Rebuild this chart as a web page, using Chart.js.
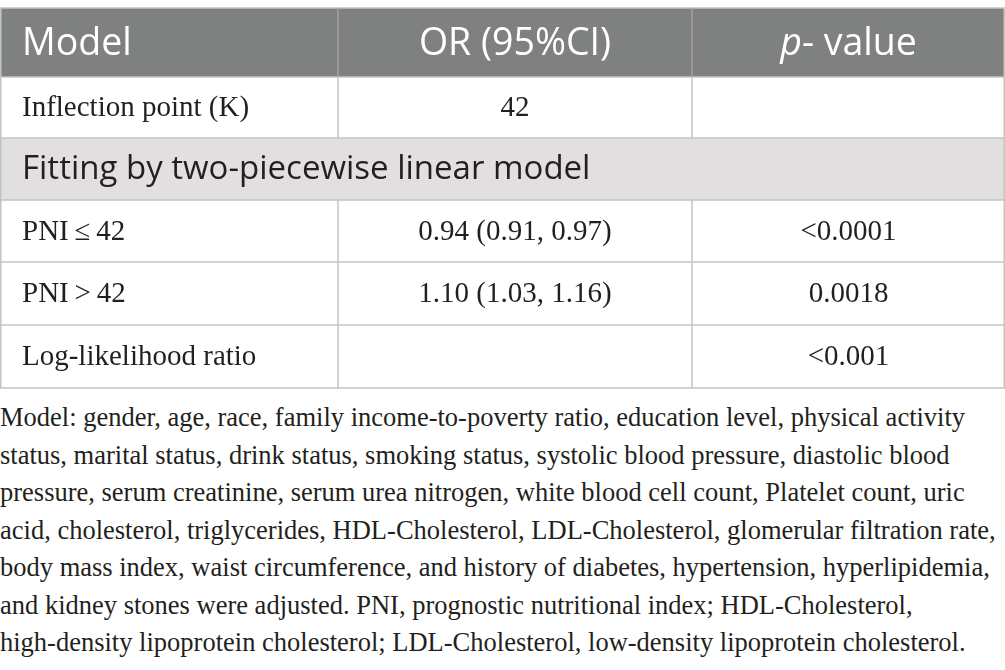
<!DOCTYPE html>
<html>
<head>
<meta charset="utf-8">
<script src="https://cdn.jsdelivr.net/npm/chart.js@4.4.1/dist/chart.umd.min.js"></script>
<style>
  html, body { margin: 0; padding: 0; background: #fff; }
  #page { position: relative; width: 1005px; height: 670px; overflow: hidden; }
  #tableCanvas { position: absolute; left: 0; top: 0; }
  #note {
    position: absolute; left: 0; top: 399px; margin: 0;
    font-family: "Liberation Serif", serif; font-size: 26.5px; line-height: 37.5px;
    color: #231f20; white-space: nowrap;
  }
</style>
</head>
<body>
<div id="page">
  <canvas id="tableCanvas" width="1005" height="390"></canvas>
  <p id="note"></p>
</div>
<script>
// table content
const headers = ['Model', 'OR (95%CI)', 'p- value'];
const rowLabels = ['Inflection point (K)', 'Fitting by two-piecewise linear model', 'PNI\u2009\u2264\u200942', 'PNI\u2009>\u200942', 'Log-likelihood ratio'];
const orValues = ['42', '', '0.94 (0.91, 0.97)', '1.10 (1.03, 1.16)', ''];
const pValues = ['', '', '<0.0001', '0.0018', '<0.001'];
const sectionRows = [1];
const noteLines = [
  'Model: gender, age, race, family income-to-poverty ratio, education level, physical activity',
  'status, marital status, drink status, smoking status, systolic blood pressure, diastolic blood',
  'pressure, serum creatinine, serum urea nitrogen, white blood cell count, Platelet count, uric',
  'acid, cholesterol, triglycerides, HDL-Cholesterol, LDL-Cholesterol, glomerular filtration rate,',
  'body mass index, waist circumference, and history of diabetes, hypertension, hyperlipidemia,',
  'and kidney stones were adjusted. PNI, prognostic nutritional index; HDL-Cholesterol,',
  'high-density lipoprotein cholesterol; LDL-Cholesterol, low-density lipoprotein cholesterol.'
];

// layout (fractions of the canvas)
const COL_EDGES = [0, 338 / 1005, 692 / 1005, 1];
const ROW_EDGES = [8, 77, 138, 200, 262, 325, 388].map(v => v / 390);

const SANS = '"Open Sans", "Noto Sans", sans-serif';
const SERIF = '"Liberation Serif", serif';

const tablePlugin = {
  id: 'tablePlugin',
  afterDraw(chart) {
    const { ctx, scales: { x, y } } = chart;
    const px = f => x.getPixelForValue(f);
    const py = f => y.getPixelForValue(f);
    const left = px(0), right = px(1);
    const padX = 22;

    ctx.save();
    // header
    ctx.fillStyle = '#7f8080';
    ctx.fillRect(left, py(ROW_EDGES[0]), right - left, py(ROW_EDGES[1]) - py(ROW_EDGES[0]));
    // section rows
    sectionRows.forEach(r => {
      ctx.fillStyle = '#e1dfe0';
      ctx.fillRect(left, py(ROW_EDGES[r + 1]), right - left, py(ROW_EDGES[r + 2]) - py(ROW_EDGES[r + 1]));
    });

    // horizontal lines
    ctx.strokeStyle = '#c4c4c4';
    ctx.lineWidth = 1.5;
    ROW_EDGES.forEach(f => {
      ctx.beginPath();
      ctx.moveTo(left, py(f));
      ctx.lineTo(right, py(f));
      ctx.stroke();
    });
    // outer verticals
    [left + 0.75, right - 0.75].forEach(xx => {
      ctx.beginPath();
      ctx.moveTo(xx, py(ROW_EDGES[0]));
      ctx.lineTo(xx, py(ROW_EDGES[ROW_EDGES.length - 1]));
      ctx.stroke();
    });
    // inner verticals
    for (let c = 1; c < COL_EDGES.length - 1; c++) {
      const xx = px(COL_EDGES[c]);
      ctx.strokeStyle = '#a2a2a2';
      ctx.beginPath();
      ctx.moveTo(xx, py(ROW_EDGES[0]));
      ctx.lineTo(xx, py(ROW_EDGES[1]));
      ctx.stroke();
      ctx.strokeStyle = '#c4c4c4';
      rowLabels.forEach((_, r) => {
        if (sectionRows.includes(r)) return;
        ctx.beginPath();
        ctx.moveTo(xx, py(ROW_EDGES[r + 1]));
        ctx.lineTo(xx, py(ROW_EDGES[r + 2]));
        ctx.stroke();
      });
    }

    // header text
    const hMid = (py(ROW_EDGES[0]) + py(ROW_EDGES[1])) / 2 + 2;
    const hFont = 37.5;
    ctx.fillStyle = '#ffffff';
    ctx.textBaseline = 'middle';
    ctx.font = `${hFont}px ${SANS}`;
    ctx.textAlign = 'left';
    ctx.fillText(headers[0], left + padX, hMid);
    ctx.textAlign = 'center';
    ctx.fillText(headers[1], (px(COL_EDGES[1]) + px(COL_EDGES[2])) / 2, hMid);
    // "p- value" with italic p
    const pc = (px(COL_EDGES[2]) + px(COL_EDGES[3])) / 2;
    const pTxt = headers[2].charAt(0), restTxt = headers[2].slice(1);
    ctx.font = `italic ${hFont}px ${SANS}`;
    const wP = ctx.measureText(pTxt).width;
    ctx.font = `${hFont}px ${SANS}`;
    const wR = ctx.measureText(restTxt).width;
    ctx.textAlign = 'left';
    ctx.font = `italic ${hFont}px ${SANS}`;
    ctx.fillText(pTxt, pc - (wP + wR) / 2, hMid);
    ctx.font = `${hFont}px ${SANS}`;
    ctx.fillText(restTxt, pc - (wP + wR) / 2 + wP, hMid);

    // body rows
    ctx.fillStyle = '#231f20';
    rowLabels.forEach((label, r) => {
      const mid = (py(ROW_EDGES[r + 1]) + py(ROW_EDGES[r + 2])) / 2 + 1;
      if (sectionRows.includes(r)) {
        ctx.font = `33px ${SANS}`;
        ctx.textAlign = 'left';
        ctx.fillText(label, left + padX, mid);
        return;
      }
      ctx.font = `29px ${SERIF}`;
      ctx.textAlign = 'left';
      ctx.fillText(label, left + padX, mid);
      ctx.textAlign = 'center';
      ctx.fillText(orValues[r], (px(COL_EDGES[1]) + px(COL_EDGES[2])) / 2, mid);
      ctx.fillText(pValues[r], (px(COL_EDGES[2]) + px(COL_EDGES[3])) / 2, mid);
    });
    ctx.restore();
  }
};

new Chart(document.getElementById('tableCanvas'), {
  type: 'scatter',
  data: { labels: rowLabels, datasets: [] },
  options: {
    responsive: false,
    animation: false,
    layout: { padding: 0 },
    scales: {
      x: { type: 'linear', min: 0, max: 1, offset: false, display: false },
      y: { type: 'linear', min: 0, max: 1, offset: false, reverse: true, display: false }
    },
    plugins: { legend: { display: false }, tooltip: { enabled: false } }
  },
  plugins: [tablePlugin]
});

document.getElementById('note').innerHTML = noteLines.join('<br>');
</script>
</body>
</html>
